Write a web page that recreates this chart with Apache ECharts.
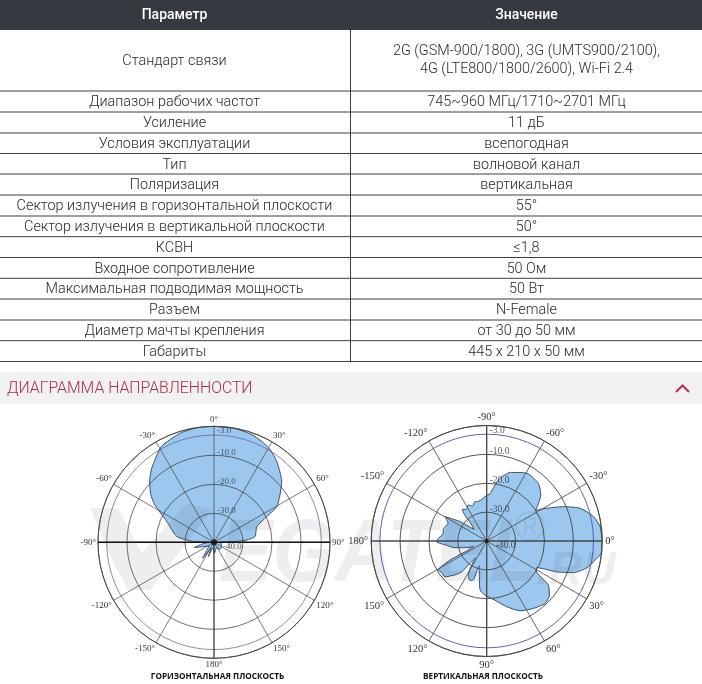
<!DOCTYPE html>
<html><head><meta charset="utf-8">
<style>html,body{margin:0;padding:0;background:#fff}#c{width:702px;height:684px}</style>
<script src="https://cdn.jsdelivr.net/npm/echarts@6/dist/echarts.min.js"></script>
</head><body><div id="c"></div>
<script>
const tableHeader = ['Параметр','Значение'];
const paramNames = ['Стандарт связи','Диапазон рабочих частот','Усиление','Условия эксплуатации','Тип','Поляризация','Сектор излучения в горизонтальной плоскости','Сектор излучения в вертикальной плоскости','КСВН','Входное сопротивление','Максимальная подводимая мощность','Разъем','Диаметр мачты крепления','Габариты'];
const paramValues = [['2G (GSM-900/1800), 3G (UMTS900/2100),','4G (LTE800/1800/2600), Wi-Fi 2.4'],['745~960 МГц/1710~2701 МГц'],['11 дБ'],['всепогодная'],['волновой канал'],['вертикальная'],['55°'],['50°'],['≤1,8'],['50 Ом'],['50 Вт'],['N-Female'],['от 30 до 50 мм'],['445 x 210 x 50 мм']];
const sectionTitle = 'ДИАГРАММА НАПРАВЛЕННОСТИ';
const hTitle = 'ГОРИЗОНТАЛЬНАЯ ПЛОСКОСТЬ';
const vTitle = 'ВЕРТИКАЛЬНАЯ ПЛОСКОСТЬ';

// Horizontal plane: angle (clockwise from top), gain dB
const hAngles = [0,10,20,30,37.8,48,54.3,60.4,64,70,82,86,88,90,100,120,140,155,165,178,190,201.6,208,215,222,232,243,255,262,270,272,279,294,302.3,307,313.5,320,331.3,343,352,360];
const hGains  = [0,-0.1,-0.7,-2.3,-4.7,-8.6,-12,-15.1,-19.7,-24.3,-25.7,-28.7,-33.3,-38,-37.5,-37,-36.8,-38,-37.5,-36.2,-38,-34.7,-38,-33.2,-36,-38,-37,-32.9,-36,-38,-32.9,-27,-22.1,-15.9,-12.7,-9.4,-6.6,-2.3,-0.6,0,0];
// Vertical plane: angle (clockwise from right), gain dB
const vAngles = [0,6,10,15,20,23.5,26,28,31,35.5,40.8,46.9,55.3,64.4,73,82,92,97.7,101.6,106,107,108.5,111,114,118,121,124,127,129,133,139.4,145,149,152.6,153.5,157,160,165,169,174,179,183,189,196,204.7,210.3,216,222,227,230,232.5,237,243,248,253,258,263,268,274,280.8,288.9,300.6,311.9,319.6,328,330.8,335.9,340.7,347,352.8,360];
const vGains  = [0,-0.1,-1.9,-4.1,-8,-13,-18,-20.5,-20,-13.8,-11.3,-10.4,-11.6,-13.2,-16.2,-19.3,-21.3,-22.9,-27.4,-30.6,-31,-26,-25.3,-25.2,-26.5,-28.5,-33,-30,-26.2,-24,-20.9,-21,-20.5,-25.7,-32,-35,-33.5,-31,-28.2,-26,-22.7,-23.2,-24.7,-24.4,-25.3,-23.2,-28.6,-34,-32.4,-28,-26.1,-27,-26,-27,-25.8,-26,-25.5,-24.6,-23.5,-18.5,-14.9,-12.7,-13.2,-15.4,-20,-16.9,-10.9,-5.7,-2.1,-0.4,0];

const ringValues = [-40,-30,-20,-10,-3,0];
const radialTicks = [-3,-10,-20,-30,-40];
const radialTickLabels = ['-3.0','-10.0','-20.0','-30.0','-40.0'];
const hAngleLabels = ['0°','30°','60°','90°','120°','150°','180°','-150°','-120°','-90°','-60°','-30°'];
const vAngleLabels = ['0°','30°','60°','90°','120°','150°','180°','-150°','-120°','-90°','-60°','-30°'];

const rowLines = [30,91,112,133,153.5,174,195,216,236.7,257.5,278.3,299,320,340.7,361.5];
const textFont = 'Roboto';
const gfx = [];
function T(text,x,y,o){gfx.push({type:'text',z:o.z||5,silent:true,x:x,y:y,scaleX:o.sx||1,style:{text,x:0,y:0,align:o.align||'center',verticalAlign:'middle',fill:o.fill||'#2a2a2a',font:o.font}});}
function L(x1,y1,x2,y2,c,w){gfx.push({type:'line',z:5,silent:true,shape:{x1,y1,x2,y2},style:{stroke:c,lineWidth:w||1}});}
gfx.push({type:'rect',z:1,shape:{x:0,y:0,width:702,height:30},style:{fill:'#343a40'}});
T(tableHeader[0],174.5,15,{fill:'#fff',font:'500 14px '+textFont});
T(tableHeader[1],526.5,15,{fill:'#fff',font:'500 14px '+textFont});
rowLines.slice(1).forEach(y=>L(0,y,702,y,'#3a3f44',1));
L(350.5,30,350.5,361.5,'#3a3f44',1);
paramNames.forEach((p,i)=>{
  const cy=(rowLines[i]+rowLines[i+1])/2+1.2;
  T(p,174.5,cy,{font:'300 14.4px '+textFont});
  const v=paramValues[i];
  if(v.length===1)T(v[0],526.5,cy,{font:'300 14.4px '+textFont});
  else{T(v[0],526.5,cy-10,{font:'300 14.4px '+textFont});T(v[1],526.5,cy+8,{font:'300 14.4px '+textFont});}
});
gfx.push({type:'rect',z:1,shape:{x:0,y:372,width:702,height:32},style:{fill:'#f1f1f1'}});
T(sectionTitle,7,389,{align:'left',fill:'#ab2f45',font:'300 15.8px '+textFont});
gfx.push({type:'polyline',z:5,shape:{points:[[676,392],[682.5,385.5],[689,392]]},style:{stroke:'#b3304a',fill:'none',lineWidth:2}});
T(hTitle,217.5,677,{fill:'#111',font:'bold 8.2px "Open Sans"'});
T(vTitle,483,677,{fill:'#111',font:'bold 8.2px "Open Sans"'});
// watermark
const wm='rgba(60,60,60,0.085)';
gfx.push({type:'polygon',z:20,shape:{points:[[90,508],[118,508],[142,553],[187,503],[212,510],[150,590],[128,590],[112,560]]},style:{fill:wm}});
T('EGATEL',378.5,556,{z:20,fill:wm,sx:0.9,font:'italic bold 89px "Liberation Sans"'});
T('®',530,529,{z:20,fill:wm,font:'42px "Liberation Sans"'});
T('.RU',576,571,{z:20,fill:wm,font:'italic bold 46px "Liberation Sans"'});

function polarSeries(idx,angles,gains,labelFamily,labelSize,hEmph){
  const s=[];
  s.push({type:'line',coordinateSystem:'polar',polarIndex:idx,z:1,silent:true,symbol:'none',smooth:0.2,
    data:angles.map((a,i)=>[gains[i],a]),
    lineStyle:{color:'#3a4f66',width:1},areaStyle:{color:'#9cc8f0',opacity:1,origin:'start'}});
  s.push({type:'line',coordinateSystem:'polar',polarIndex:idx,z:6,silent:true,symbol:'none',
    data:[[0,90],[-40,90],[0,270]],lineStyle:{color:hEmph?'#111':'#444',width:hEmph?1.4:1.1}});
  s.push({type:'line',coordinateSystem:'polar',polarIndex:idx,z:6,silent:true,symbol:'none',
    data:hEmph?[[-40,180],[0,180]]:[[0,0],[-40,0],[0,180]],lineStyle:{color:'#333',width:0.9}});
  s.push({type:'scatter',coordinateSystem:'polar',polarIndex:idx,z:7,silent:true,symbol:'circle',symbolSize:idx===0?6:4,itemStyle:{color:'#111'},data:[[-40,0]]});
  s.push({type:'scatter',coordinateSystem:'polar',polarIndex:idx,z:7,silent:true,symbolSize:0,
    data:radialTicks.map((r,i)=>({value:[r,idx===0?0:270],
      label:{show:true,position:'right',distance:0,offset:[r===-40?9:3,r===-40?4:(r===-3?-4:-2.5)],formatter:radialTickLabels[i],color:'#333',fontFamily:labelFamily,fontSize:labelSize}}))});
  return s;
}
const angleCommon={type:'value',min:0,max:360,interval:30,clockwise:true,
  axisLine:{show:true,lineStyle:{color:'#444',width:0.9}},axisTick:{show:false},z:3,silent:true};
const radiusCommon={type:'value',min:-40,max:0,
  axisLine:{show:false},axisLabel:{show:false},z:3,silent:true};
const option={
  animation:false,
  graphic:{elements:gfx},
  polar:[{center:[214,542.3],radius:116},{center:[486.7,541],radius:115.5}],
  angleAxis:[
    Object.assign({},angleCommon,{polarIndex:0,startAngle:90,splitLine:{show:true,lineStyle:{color:'#444',width:0.7}},axisLabel:{margin:2,color:'#333',fontFamily:'Liberation Serif',fontSize:9,formatter:v=>hAngleLabels[(v/30)%12]}}),
    Object.assign({},angleCommon,{polarIndex:1,startAngle:0,splitLine:{show:true,lineStyle:{color:'#555',width:0.9}},axisLabel:{margin:3,color:'#333',fontFamily:'Liberation Serif',fontSize:10.5,formatter:v=>vAngleLabels[(v/30)%12]}})
  ],
  radiusAxis:[
    Object.assign({},radiusCommon,{polarIndex:0,axisTick:{show:false,customValues:ringValues},splitLine:{show:true,lineStyle:{color:['#333','#333','#333','#333','#5a5a90','#333'],width:0.7}}}),
    Object.assign({},radiusCommon,{polarIndex:1,axisTick:{show:false,customValues:ringValues},splitLine:{show:true,lineStyle:{color:['#444','#444','#444','#444','#5050a8','#444'],width:0.9}}})
  ],
  series:[].concat(
    polarSeries(0,hAngles,hGains,'Liberation Serif',9,true),
    polarSeries(1,vAngles,vGains,'Liberation Serif',9.5,false))
};
const chart=echarts.init(document.getElementById('c'),null,{renderer:'canvas'});
chart.setOption(option);
</script></body></html>
